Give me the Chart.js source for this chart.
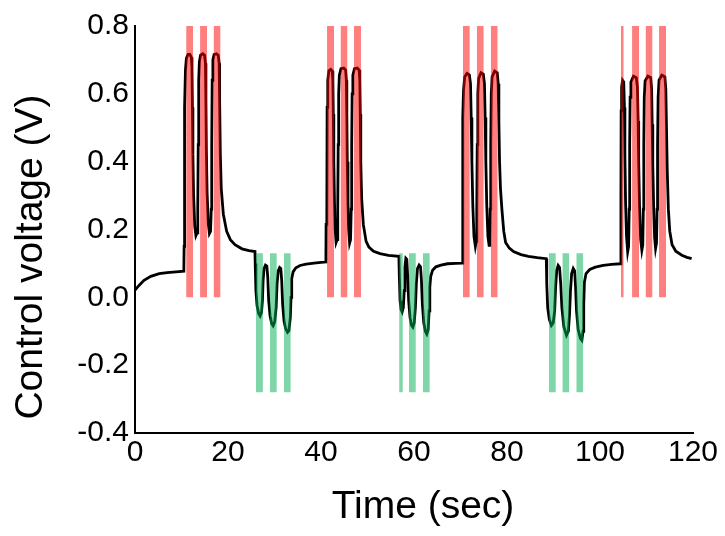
<!DOCTYPE html>
<html>
<head>
<meta charset="utf-8">
<script src="https://cdn.jsdelivr.net/npm/chart.js@4.4.0/dist/chart.umd.min.js"></script>
<style>
  html, body { margin: 0; padding: 0; background: #ffffff; }
  #wrap { width: 725px; height: 536px; position: relative; }
</style>
</head>
<body>
<div id="wrap"><canvas id="c" width="725" height="536"></canvas></div>
<script>
// ---- Control voltage trace (time in sec, voltage in V) ----
const restTime = [0.00, 0.86, 1.94, 3.40, 5.20, 6.90, 8.80, 10.50];
const restVolt = [0.021, 0.035, 0.050, 0.062, 0.070, 0.073, 0.075, 0.077];

const burst1Time = [10.56, 10.62, 10.70, 10.85, 11.05, 11.40, 11.80, 12.10, 12.25, 12.35, 12.45, 12.60, 12.85, 13.10, 13.35,
  13.50, 13.60, 13.70, 13.85, 14.10, 14.60, 14.95, 15.15, 15.25, 15.35, 15.50, 15.75, 16.00, 16.25,
  16.40, 16.50, 16.60, 16.75, 17.00, 17.50, 17.90, 18.10, 18.20, 18.35, 18.55, 19.00, 19.70, 20.50, 21.50, 23.00, 24.50, 25.80];
const burst1Volt = [0.150, 0.155, 0.560, 0.670, 0.705, 0.716, 0.716, 0.708, 0.680, 0.560, 0.420, 0.300, 0.210, 0.182, 0.190,
  0.260, 0.450, 0.640, 0.695, 0.714, 0.718, 0.714, 0.690, 0.580, 0.430, 0.310, 0.220, 0.188, 0.195,
  0.260, 0.450, 0.640, 0.700, 0.716, 0.718, 0.714, 0.690, 0.580, 0.420, 0.320, 0.245, 0.195, 0.170, 0.155, 0.143, 0.138, 0.135];

const dip1Time = [25.85, 26.00, 26.25, 26.60, 26.90, 27.20, 27.40, 27.55, 27.75, 28.05, 28.35, 28.55, 28.75, 29.05, 29.40, 29.70,
  30.05, 30.35, 30.55, 30.80, 31.10, 31.35, 31.55, 31.75, 32.05, 32.40, 32.80, 33.10, 33.40, 33.55, 33.70, 34.00, 34.60,
  35.50, 36.80, 38.50, 40.00, 41.05];
const dip1Volt = [0.100, 0.020, -0.025, -0.048, -0.055, -0.045, -0.010, 0.050, 0.085, 0.095, 0.092, 0.060, -0.010, -0.055, -0.078, -0.084,
  -0.072, -0.030, 0.040, 0.078, 0.088, 0.085, 0.050, -0.020, -0.070, -0.093, -0.103, -0.098, -0.060, 0.000, 0.055, 0.075, 0.087,
  0.094, 0.098, 0.101, 0.103, 0.104];

const burst2Time = [41.10, 41.25, 41.32, 41.45, 41.70, 42.10, 42.40, 42.55, 42.65, 42.75, 42.90, 43.05, 43.25, 43.45, 43.60, 43.70,
  43.80, 43.95, 44.30, 44.90, 45.30, 45.45, 45.55, 45.65, 45.80, 45.95, 46.15, 46.35, 46.50, 46.60, 46.70, 46.85, 47.20,
  47.80, 48.20, 48.35, 48.45, 48.55, 48.75, 49.10, 49.70, 50.30, 51.30, 52.70, 54.50, 56.75];
const burst2Volt = [0.215, 0.225, 0.560, 0.640, 0.668, 0.672, 0.668, 0.640, 0.540, 0.400, 0.280, 0.200, 0.162, 0.170, 0.260, 0.450,
  0.600, 0.655, 0.674, 0.676, 0.670, 0.640, 0.540, 0.400, 0.280, 0.200, 0.160, 0.170, 0.260, 0.450, 0.600, 0.655, 0.674,
  0.676, 0.670, 0.640, 0.540, 0.400, 0.290, 0.215, 0.165, 0.148, 0.136, 0.129, 0.124, 0.121];

const dip2Time = [56.85, 57.00, 57.20, 57.45, 57.70, 57.90, 58.05, 58.25, 58.45, 58.65, 58.85, 59.15, 59.45, 59.75, 60.05, 60.30,
  60.50, 60.75, 61.10, 61.40, 61.60, 61.80, 62.10, 62.45, 62.75, 63.05, 63.25, 63.40, 63.60, 64.00, 64.70, 65.80, 67.20,
  69.00, 70.40];
const dip2Volt = [0.060, -0.010, -0.035, -0.043, -0.030, 0.020, 0.090, 0.115, 0.112, 0.060, -0.010, -0.060, -0.082, -0.088, -0.075, -0.030,
  0.040, 0.085, 0.095, 0.090, 0.050, -0.020, -0.075, -0.100, -0.108, -0.095, -0.040, 0.030, 0.062, 0.080, 0.090, 0.095, 0.099,
  0.100, 0.101];

const burst3Time = [70.45, 70.52, 70.65, 70.90, 71.40, 71.90, 72.15, 72.30, 72.45, 72.65, 72.90, 73.20, 73.40, 73.50, 73.60, 73.72,
  73.90, 74.40, 74.90, 75.15, 75.30, 75.45, 75.65, 75.90, 76.15, 76.30, 76.40, 76.50, 76.62, 76.80, 77.35, 77.90, 78.10,
  78.25, 78.40, 78.60, 78.90, 79.30, 79.70, 80.50, 81.40, 83.00, 84.60, 86.50, 88.45];
const burst3Volt = [0.300, 0.530, 0.610, 0.650, 0.660, 0.656, 0.630, 0.530, 0.400, 0.270, 0.180, 0.150, 0.165, 0.260, 0.450, 0.600,
  0.645, 0.662, 0.658, 0.630, 0.530, 0.400, 0.270, 0.180, 0.153, 0.170, 0.260, 0.450, 0.600, 0.650, 0.667, 0.662, 0.630,
  0.520, 0.400, 0.320, 0.260, 0.195, 0.162, 0.145, 0.135, 0.126, 0.121, 0.117, 0.114];

const dip3Time = [88.55, 88.75, 89.10, 89.55, 89.95, 90.25, 90.45, 90.70, 91.00, 91.30, 91.55, 91.80, 92.20, 92.80, 93.20, 93.45,
  93.65, 93.90, 94.25, 94.55, 94.75, 94.95, 95.30, 95.80, 96.10, 96.35, 96.50, 96.65, 97.00, 97.80, 99.00, 100.70, 102.50, 104.45];
const dip3Volt = [0.040, -0.030, -0.065, -0.083, -0.075, -0.040, 0.030, 0.080, 0.094, 0.088, 0.040, -0.030, -0.085, -0.112, -0.100, -0.050,
  0.020, 0.070, 0.085, 0.078, 0.030, -0.040, -0.095, -0.122, -0.127, -0.100, -0.020, 0.045, 0.070, 0.082, 0.089, 0.094, 0.097, 0.099];

const burst4Time = [104.50, 104.55, 104.65, 104.85, 105.10, 105.25, 105.35, 105.50, 105.70, 105.95, 106.15, 106.28, 106.38, 106.48,
  106.65, 107.20, 107.80, 108.05, 108.20, 108.32, 108.50, 108.75, 109.00, 109.20, 109.32, 109.42, 109.52, 109.70, 110.30,
  110.90, 111.10, 111.22, 111.35, 111.55, 111.75, 111.95, 112.15, 112.28, 112.38, 112.50, 112.70, 113.30, 113.95, 114.15,
  114.30, 114.45, 114.70, 115.00, 115.50, 116.30, 117.60, 118.70, 119.70];
const burst4Volt = [0.300, 0.550, 0.620, 0.640, 0.635, 0.560, 0.420, 0.280, 0.180, 0.134, 0.150, 0.260, 0.450, 0.590,
  0.635, 0.652, 0.648, 0.620, 0.520, 0.400, 0.270, 0.170, 0.139, 0.155, 0.260, 0.450, 0.590, 0.638, 0.652,
  0.648, 0.615, 0.510, 0.390, 0.260, 0.175, 0.144, 0.160, 0.260, 0.450, 0.590, 0.640, 0.655, 0.650, 0.615,
  0.500, 0.380, 0.260, 0.195, 0.155, 0.136, 0.124, 0.118, 0.114];

// ---- Stimulus windows (start, end in sec) ----
const redPulseStart = [11.0, 14.0, 16.9, 41.3, 44.2, 47.1, 70.5, 73.5, 76.5, 104.5, 106.9, 109.8, 112.7];
const redPulseEnd   = [12.5, 15.5, 18.4, 42.8, 45.7, 48.6, 72.0, 75.0, 78.0, 105.1, 108.4, 111.3, 114.2];
const redPulseLow = 0.0, redPulseHigh = 0.8;
const greenPulseStart = [26.0, 29.0, 32.0, 56.8, 58.9, 61.9, 89.0, 91.9, 94.9];
const greenPulseEnd   = [27.5, 30.5, 33.5, 57.6, 60.4, 63.4, 90.5, 93.4, 96.4];
const greenPulseLow = -0.28, greenPulseHigh = 0.13;

// ---- Axis ticks ----
const xTicks = [0, 20, 40, 60, 80, 100, 120];
const yTicks = [-0.4, -0.2, 0.0, 0.2, 0.4, 0.6, 0.8];

// ---- Build datasets ----
const segTimes = [restTime, burst1Time, dip1Time, burst2Time, dip2Time, burst3Time, dip3Time, burst4Time];
const segVolts = [restVolt, burst1Volt, dip1Volt, burst2Volt, dip2Volt, burst3Volt, dip3Volt, burst4Volt];
const tracePoints = [];
segTimes.forEach((ts, k) => {
  const vs = segVolts[k];
  const n = Math.min(ts.length, vs.length);
  for (let i = 0; i < n; i++) tracePoints.push({x: ts[i], y: vs[i]});
});

const FONT = '"Liberation Sans", Arial, Helvetica, sans-serif';
const datasets = [];
function pulseDataset(t0, t1, lo, hi, color) {
  return {
    data: [{x: t0, y: hi}, {x: t1, y: hi}],
    fill: {value: lo},
    backgroundColor: color,
    borderColor: 'rgba(0,0,0,0)',
    borderWidth: 0,
    pointRadius: 0,
    tension: 0,
    order: 1
  };
}
redPulseStart.forEach((s, i) => datasets.push(pulseDataset(s, redPulseEnd[i], redPulseLow, redPulseHigh, 'rgba(255,0,0,0.5)')));
greenPulseStart.forEach((s, i) => datasets.push(pulseDataset(s, greenPulseEnd[i], greenPulseLow, greenPulseHigh, 'rgba(0,176,84,0.5)')));
datasets.push({
  data: tracePoints,
  borderColor: '#000000',
  borderWidth: 2.8,
  pointRadius: 0,
  fill: false,
  tension: 0,
  order: 2
});

const titlePlugin = {
  id: 'axisTitles',
  afterDraw(chart) {
    const ctx = chart.ctx;
    ctx.save();
    ctx.fillStyle = '#000';
    ctx.font = '39px ' + FONT;
    ctx.textAlign = 'center';
    ctx.textBaseline = 'middle';
    ctx.fillText('Time (sec)', 423, 507);
    ctx.translate(31, 257);
    ctx.rotate(-Math.PI / 2);
    ctx.fillText('Control voltage (V)', 0, 0);
    ctx.restore();
  }
};

new Chart(document.getElementById('c'), {
  type: 'line',
  data: { datasets },
  options: {
    responsive: false,
    animation: false,
    events: [],
    layout: { padding: { left: 0, right: 32, top: 26, bottom: 0 } },
    plugins: { legend: { display: false }, tooltip: { enabled: false } },
    scales: {
      x: {
        type: 'linear',
        min: xTicks[0], max: xTicks[xTicks.length - 1],
        afterBuildTicks: (s) => { s.ticks = xTicks.map(v => ({value: v})); },
        afterFit: (s) => { s.height = 103; },
        grid: { display: false, drawTicks: false, tickLength: 0 },
        border: { display: true, color: '#000', width: 2 },
        ticks: { color: '#000', font: { family: FONT, size: 30 }, padding: 2, maxRotation: 0,
                 callback: (v) => String(v) }
      },
      y: {
        type: 'linear',
        min: yTicks[0], max: yTicks[yTicks.length - 1],
        afterBuildTicks: (s) => { s.ticks = yTicks.map(v => ({value: v})); },
        afterFit: (s) => { s.width = 135; },
        grid: { display: false, drawTicks: false, tickLength: 0 },
        border: { display: true, color: '#000', width: 2 },
        ticks: { color: '#000', font: { family: FONT, size: 30 }, padding: 6,
                 callback: (v) => (Math.abs(v) < 1e-9 ? 0 : v).toFixed(1) }
      }
    }
  },
  plugins: [titlePlugin]
});
</script>
</body>
</html>
